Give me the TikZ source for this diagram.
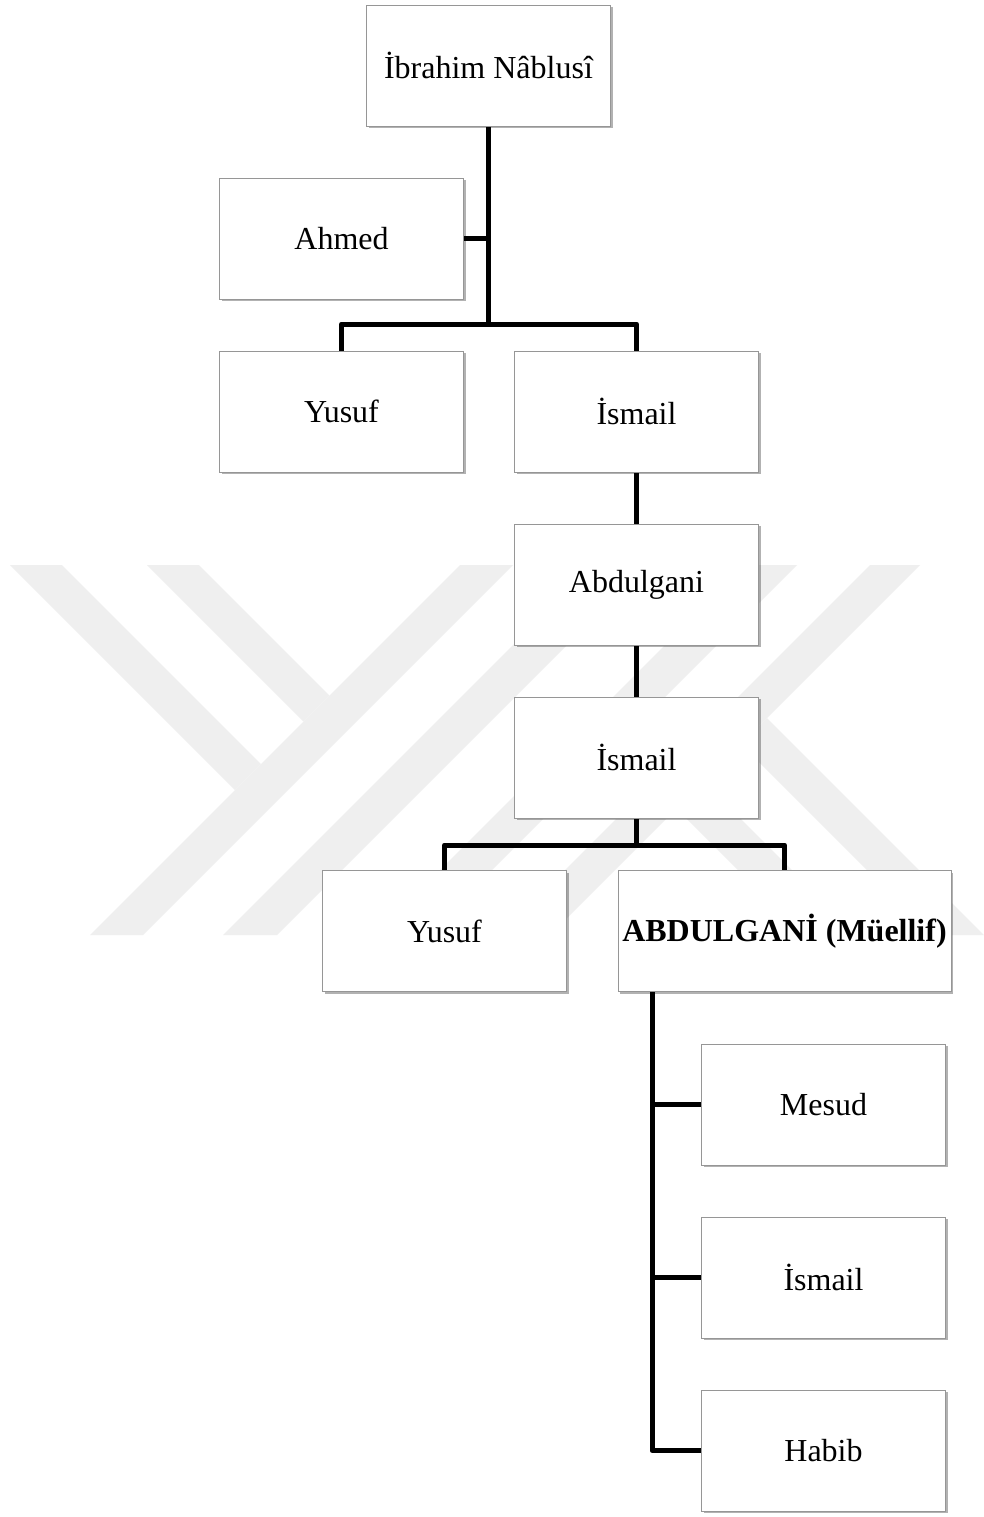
\documentclass[tikz,border=0pt]{standalone}
\usepackage{fontspec}
\setmainfont{Liberation Serif}
\usetikzlibrary{shadows}
\pgfdeclarelayer{bglayer}
\pgfdeclarelayer{wmlayer}
\pgfdeclarelayer{linelayer}
\pgfsetlayers{bglayer,wmlayer,linelayer,main}
\definecolor{wm}{RGB}{239,239,239}
\definecolor{boxline}{RGB}{150,150,150}
\begin{document}
\begin{tikzpicture}[x=0.5pt,y=-0.5pt,
  person/.style={draw=boxline, line width=0.5pt, fill=white,
    minimum width=122pt, minimum height=60.5pt, inner sep=0pt,
    font=\fontsize{16}{19}\selectfont,
    drop shadow={shadow xshift=1pt, shadow yshift=-1pt, opacity=0.3, fill=black}},
  conn/.style={line width=2.5pt, line join=round},
  wmband/.style={fill=wm, draw=none}]
\useasboundingbox (0,0) rectangle (984,1517);
\begin{pgfonlayer}{bglayer}
  \fill[white] (0,0) rectangle (984,1517);
\end{pgfonlayer}

% nodes
\node[person] (ib)  at (488.5,65.5)  {İbrahim Nâblusî};
\node[person] (ah)  at (341.5,238.5) {Ahmed};
\node[person] (yu1) at (341.5,411.5) {Yusuf};
\node[person] (is1) at (636.5,411.5) {İsmail};
\node[person] (ab)  at (636.5,584.5) {Abdulgani};
\node[person] (is2) at (636.5,757.5) {İsmail};
\node[person] (yu2) at (444.5,931)   {Yusuf};
\node[person, minimum width=166.5pt, font=\fontsize{16}{19}\selectfont\bfseries] (mu) at (784.5,931) {ABDULGANİ (Müellif)};
\node[person] (me)  at (823.5,1104.5) {Mesud};
\node[person] (is3) at (823.5,1277.5) {İsmail};
\node[person] (ha)  at (823.5,1450.5) {Habib};

\coordinate (j1) at (488.5,324);
\coordinate (j2) at (636.5,845);
\coordinate (m0) at (652,992);

\begin{pgfonlayer}{wmlayer}
  \fill[wmband] (90,935) -- (143,935) -- (513,565) -- (460,565) -- cycle;
  \fill[wmband] (10,565) -- (62,565) -- (261,764) -- (235,790) -- cycle;
  \fill[wmband] (147,565) -- (199,565) -- (329.5,695.5) -- (303.5,721.5) -- cycle;
  \fill[wmband] (223,935) -- (277,935) -- (647,565) -- (593,565) -- cycle;
  \fill[wmband] (375,935) -- (427,935) -- (797,565) -- (745,565) -- cycle;
  \fill[wmband] (500,935) -- (550,935) -- (920,565) -- (870,565) -- cycle;
  \fill[wmband] (767,718) -- (984,935) -- (932,935) -- (741,744) -- cycle;
  \fill[wmband] (642,720) -- (857,935) -- (803,935) -- (615,747) -- cycle;
\end{pgfonlayer}

\begin{pgfonlayer}{linelayer}
  \draw[conn] (ib.south) -- (j1);
  \draw[conn] (ah.east) -- (ah.east -| j1);
  \draw[conn] (yu1.north) |- (j1) -| (is1.north);
  \draw[conn] (is1.south) -- (ab.north);
  \draw[conn] (ab.south) -- (is2.north);
  \draw[conn] (is2.south) -- (j2);
  \draw[conn] (yu2.north) |- (j2) -| (mu.north);
  \draw[conn] (m0) |- (ha.west);
  \draw[conn] (me.west) -- (me.west -| m0);
  \draw[conn] (is3.west) -- (is3.west -| m0);
\end{pgfonlayer}
\end{tikzpicture}
\end{document}
